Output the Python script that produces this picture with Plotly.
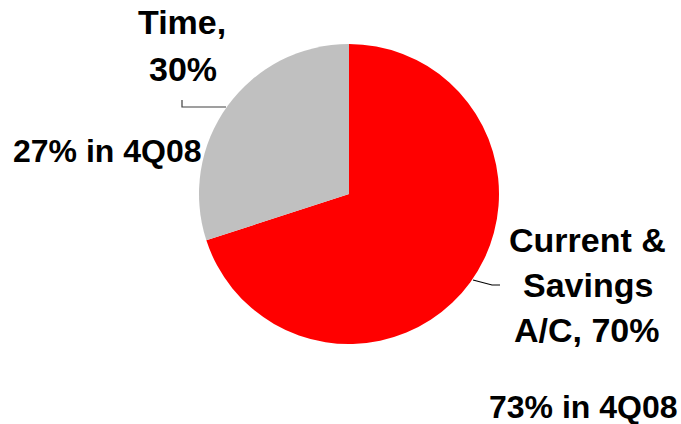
import plotly.graph_objects as go

# Deposit mix
labels = ["Current & Savings A/C", "Time"]
values = [70, 30]
prior_share = [73, 27]
prior_period = "4Q08"
colors = ["#FF0000", "#C0C0C0"]

W, H = 681, 424
CX, CY, R = 349, 194, 150


def px(x):
    return x / W


def py(y):
    return 1 - y / H


fig = go.Figure(
    go.Pie(
        labels=labels,
        values=values,
        marker=dict(colors=colors, line=dict(width=0)),
        sort=False,
        direction="clockwise",
        rotation=0,
        textinfo="none",
        hoverinfo="label+percent",
        showlegend=False,
        domain=dict(x=[px(CX - R), px(CX + R)], y=[py(CY + R), py(CY - R)]),
    )
)

family = "Liberation Sans, Arial, sans-serif"
label_font = dict(family=family, size=34, color="#000000")
note_font = dict(family=family, size=32, color="#000000")

# Label lines: (text, centre x, cap-middle y, font)
time_lines = [("Time,", 182, 22), (f"{values[1]}%", 183, 69)]
cs_lines = [("Current &", 587, 240), ("Savings", 588, 285), (f"A/C, {values[0]}%", 587, 330)]
notes = [
    (f"{prior_share[1]}% in {prior_period}", 107, 151),
    (f"{prior_share[0]}% in {prior_period}", 583, 407),
]

annotations = []
for group, font in ((time_lines + cs_lines, label_font), (notes, note_font)):
    for text, x, y in group:
        annotations.append(
            dict(
                text=f"<b>{text}</b>",
                x=px(x),
                y=py(y),
                xref="paper",
                yref="paper",
                xanchor="center",
                yanchor="middle",
                showarrow=False,
                font=font,
            )
        )

# Leader lines from labels to the slices
shapes = [
    dict(
        type="path",
        xref="paper",
        yref="paper",
        path=f"M {px(182)} {py(100)} L {px(182)} {py(107)} L {px(226)} {py(107)}",
        line=dict(color="#404040", width=1.2),
    ),
    dict(
        type="path",
        xref="paper",
        yref="paper",
        path=f"M {px(473)} {py(280)} L {px(492)} {py(285)} L {px(500)} {py(285)}",
        line=dict(color="#000000", width=1.2),
    ),
]

fig.update_layout(
    width=W,
    height=H,
    margin=dict(l=0, r=0, t=0, b=0),
    paper_bgcolor="#FFFFFF",
    plot_bgcolor="#FFFFFF",
    annotations=annotations,
    shapes=shapes,
)

fig.write_html("out.html")
